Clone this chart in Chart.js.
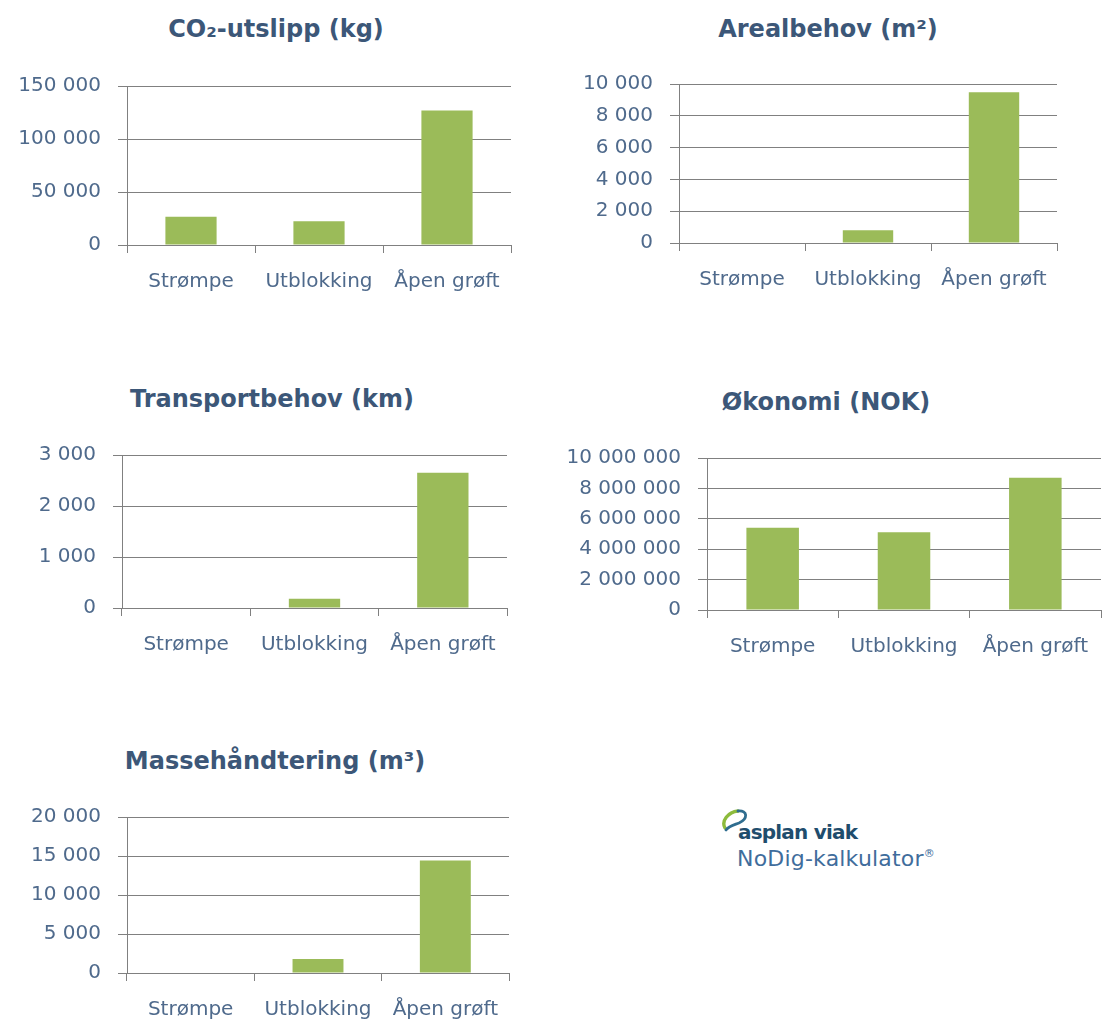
<!DOCTYPE html>
<html lang="no">
<head>
<meta charset="utf-8">
<title>NoDig-kalkulator</title>
<script src="https://cdn.jsdelivr.net/npm/chart.js@4/dist/chart.umd.min.js"></script>
<style>
  html, body { margin: 0; padding: 0; background: #ffffff; width: 1102px; height: 1023px; overflow: hidden; }
  canvas.panel { position: absolute; }
  .heading { position: absolute; transform: translate(-50%, -50%); font-family: "DejaVu Sans", sans-serif;
             font-weight: bold; font-size: 24px; line-height: 1; color: #3c5778; white-space: nowrap; }
  #brand { position: absolute; left: 720px; top: 806px; font-family: "DejaVu Sans", sans-serif; }
  #brand svg { position: absolute; left: 0; top: 2px; }
  #brand .name { position: absolute; left: 18px; top: 14px; font-weight: bold; font-size: 20px; color: #1f4d6d; white-space: nowrap; letter-spacing: -0.8px; }
  #brand .product { position: absolute; left: 17px; top: 40px; font-size: 22px; color: #3f6d9c; white-space: nowrap; letter-spacing: 0.2px; }
  #brand .product sup { font-size: 11px; vertical-align: 9px; }
</style>
</head>
<body>
<canvas id="co2" class="panel"></canvas>
<canvas id="areal" class="panel"></canvas>
<canvas id="transport" class="panel"></canvas>
<canvas id="okonomi" class="panel"></canvas>
<canvas id="masse" class="panel"></canvas>

<div id="brand">
  <svg width="32" height="26" viewBox="0 0 32 26">
    <path d="M5 20 C1 13, 8 4, 18 3" fill="none" stroke="#8dbb3c" stroke-width="3.4" stroke-linecap="round"/>
    <path d="M18 3 C28 2, 28 11, 19 15 C14 17, 9 18, 6 22" fill="none" stroke="#2f6d8f" stroke-width="2.8" stroke-linecap="round"/>
  </svg>
  <div class="name">asplan viak</div>
  <div class="product">NoDig-kalkulator<sup>®</sup></div>
</div>

<script>
// Categories shared by every panel
const categories = ['Strømpe', 'Utblokking', 'Åpen grøft'];

// Values per panel, one per category
const co2Values       = [26600, 22500, 126800];
const arealValues     = [0, 800, 9480];
const transportValues = [0, 180, 2650];
const okonomiValues   = [5410000, 5120000, 8700000];
const masseValues     = [0, 1800, 14430];

// Value axes: [min, max, step]
const co2Axis       = [0, 150000, 50000];
const arealAxis     = [0, 10000, 2000];
const transportAxis = [0, 3000, 1000];
const okonomiAxis   = [0, 10000000, 2000000];
const masseAxis     = [0, 20000, 5000];

const BAR_COLOR = '#9bbb59';
const GRID_COLOR = '#808080';
const TICK_COLOR = '#4f6a8c';
const FONT = '"DejaVu Sans", sans-serif';
const X_AXIS_HEIGHT = 52;
const PAD_RIGHT = 10;

// Norwegian style thousands grouping: 150 000
function grouped(v) {
  return String(v).replace(/\B(?=(\d{3})+(?!\d))/g, ' ');
}

function heading(text, x, y) {
  const d = document.createElement('div');
  d.className = 'heading';
  d.textContent = text;
  d.style.left = x + 'px';
  d.style.top = y + 'px';
  document.body.appendChild(d);
}

// plot: edges of the plotting area in page pixels; the heading is centred at (titleX, titleY)
function panel(id, title, values, axis, plot, titleX, titleY, canvasLeft) {
  const el = document.getElementById(id);
  const yAxisWidth = plot.left - canvasLeft;
  const width = plot.right + PAD_RIGHT - canvasLeft;
  const plotHeight = plot.bottom - plot.top;
  el.width = width;
  el.height = plotHeight + X_AXIS_HEIGHT + 20;
  el.style.width = width + 'px';
  el.style.height = el.height + 'px';
  el.style.left = canvasLeft + 'px';
  heading(title, titleX, titleY);

  const chart = new Chart(el, {
    type: 'bar',
    data: {
      labels: categories,
      datasets: [{
        data: values,
        backgroundColor: BAR_COLOR,
        borderWidth: 0,
        barPercentage: 0.4,
        categoryPercentage: 1
      }]
    },
    options: {
      responsive: false,
      maintainAspectRatio: false,
      animation: false,
      devicePixelRatio: 1,
      layout: { padding: { left: 0, right: PAD_RIGHT, top: 0, bottom: 0 } },
      plugins: {
        legend: { display: false },
        tooltip: { enabled: false },
        title: { display: false }
      },
      scales: {
        x: {
          grid: { display: true, drawOnChartArea: false, drawTicks: true, tickLength: 8, offset: true, color: GRID_COLOR },
          border: { display: true, color: GRID_COLOR },
          ticks: { color: TICK_COLOR, font: { family: FONT, size: 20 }, padding: 17, autoSkip: false, maxRotation: 0 },
          afterFit: s => { s.height = X_AXIS_HEIGHT; }
        },
        y: {
          min: axis[0],
          max: axis[1],
          grid: { color: GRID_COLOR, tickLength: 9 },
          border: { display: true, color: GRID_COLOR },
          ticks: { stepSize: axis[2], color: TICK_COLOR, font: { family: FONT, size: 20 }, padding: 17, callback: v => grouped(v) },
          afterFit: s => { s.width = yAxisWidth; }
        }
      }
    }
  });

  // Grow or shrink the canvas until the plotting area has the wanted height
  for (let i = 0; i < 4; i++) {
    const area = chart.chartArea;
    const diff = plotHeight - (area.bottom - area.top);
    if (Math.abs(diff) < 0.5) break;
    const h = chart.height + diff;
    el.style.height = h + 'px';
    chart.resize(width, h);
  }
  el.style.top = (plot.top - chart.chartArea.top) + 'px';
}

panel('co2', 'CO₂-utslipp (kg)', co2Values, co2Axis,
      { left: 127, right: 511, top: 86, bottom: 245 }, 276, 29, 0);
panel('areal', 'Arealbehov (m²)', arealValues, arealAxis,
      { left: 679, right: 1057, top: 84, bottom: 243 }, 828, 29, 556);
panel('transport', 'Transportbehov (km)', transportValues, transportAxis,
      { left: 122, right: 507, top: 455, bottom: 608 }, 272, 399, 0);
panel('okonomi', 'Økonomi (NOK)', okonomiValues, okonomiAxis,
      { left: 707, right: 1101, top: 458, bottom: 610 }, 826, 402, 551);
panel('masse', 'Massehåndtering (m³)', masseValues, masseAxis,
      { left: 127, right: 509, top: 817, bottom: 973 }, 275, 761, 0);
</script>
</body>
</html>
